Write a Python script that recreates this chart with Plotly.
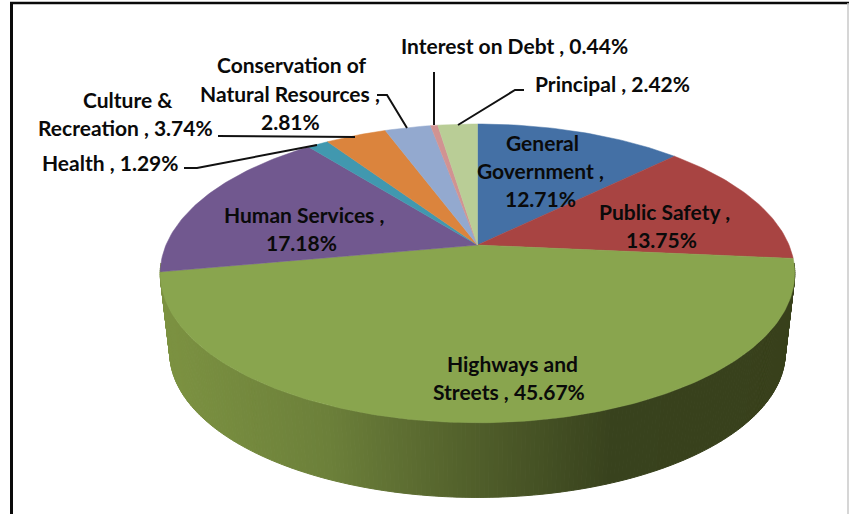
import numpy as np
import plotly.graph_objects as go

# Spending shares, clockwise from twelve o'clock
categories = ["General Government", "Public Safety", "Highways and Streets", "Human Services", "Health",
              "Culture & Recreation", "Conservation of Natural Resources", "Interest on Debt", "Principal"]
shares = [12.71, 13.75, 45.67, 17.18, 1.29, 3.74, 2.81, 0.44, 2.42]
colors = ["#4470A5", "#A84442", "#89A54E", "#71588F", "#4198AF", "#DB843D", "#93A9CF", "#D19392", "#B9CD96"]

# Wrapped label text, {} takes the share
label_templates = ["General|Government ,|{}%", "Public Safety ,|{}%", "Highways and|Streets , {}%",
                   "Human Services ,|{}%", "Health , {}%", "Culture &|Recreation , {}%",
                   "Conservation of|Natural Resources ,|{}%", "Interest on Debt , {}%", "Principal , {}%"]
label_xy = [[(542, 142), (540, 170), (540, 198)], [(664, 211), (661, 239)], [(512, 363), (509, 391)],
            [(304, 214), (301, 242)], [(110, 162)], [(128, 99), (125, 127)],
            [(292, 64), (290, 93), (290, 121)], [(514, 45)], [(612, 83)]]
leaders = [[(377, 95), (387, 95), (407, 128)], [(218, 136), (355, 137)],
           [(184, 168), (197, 168), (317, 145)], [(434, 72), (434, 125)],
           [(524, 90), (515, 90), (458, 125)]]

# Perspective model of the disc
CX, CY, RX, RY, PERSP = 477.5, 245.0, 311.5, 144.0, 0.19
RIM_SCALE, RIM_DROP = 0.97, 80.0


def project(t, scale=1.0, drop=0.0, radius=1.0):
    dx, dy = radius * np.sin(t), -radius * np.cos(t)
    w = 1 - PERSP * dy
    return CX + scale * RX * dx / w, CY + drop + scale * RY * dy / w


def side_shade(x):
    return [int(round(np.interp(x, [170, 330, 477, 610, 790], ch)))
            for ch in ([124, 108, 80, 56, 56], [146, 128, 94, 66, 64], [65, 58, 42, 29, 27])]


fig = go.Figure()

# Curved wall below the Highways slice, shaded left to right
wall = np.radians(np.linspace(97, 263, 240))
for a, b in zip(wall[:-1], wall[1:]):
    xt0, yt0 = project(a)
    xt1, yt1 = project(b)
    xb0, yb0 = project(a, RIM_SCALE, RIM_DROP)
    xb1, yb1 = project(b, RIM_SCALE, RIM_DROP)
    r, g, bl = side_shade((xb0 + xb1) / 2)
    col = f"rgb({r},{g},{bl})"
    fig.add_trace(go.Scatter(x=[xt0, xt1, xb1, xb0, xt0], y=[yt0, yt1, yb1, yb0, yt0], mode="lines",
                             fill="toself", fillcolor=col, line=dict(color=col, width=1),
                             hoverinfo="skip", showlegend=False))

# Top face wedges
edges = np.cumsum([0] + shares) / sum(shares) * 2 * np.pi
for name, col, t0, t1 in zip(categories, colors, edges[:-1], edges[1:]):
    arc = np.linspace(t0, t1, max(3, int((t1 - t0) * 60)))
    xa, ya = project(arc)
    fig.add_trace(go.Scatter(x=[CX, *xa, CX], y=[CY, *ya, CY], mode="lines", fill="toself", fillcolor=col,
                             line=dict(color=col, width=0.5), name=name, showlegend=False))

for pts in leaders:
    fig.add_trace(go.Scatter(x=[p[0] for p in pts], y=[p[1] for p in pts], mode="lines",
                             line=dict(color="#111111", width=2), hoverinfo="skip", showlegend=False))

for tpl, val, spots in zip(label_templates, shares, label_xy):
    for line, (lx, ly) in zip(tpl.format(f"{val:.2f}").split("|"), spots):
        fig.add_annotation(x=lx, y=ly, text=line, showarrow=False, xanchor="center", yanchor="middle",
                           font=dict(family="Lato", size=21, color="#0a0a0a", weight="bold"))

# Outer frame of the slide object
frame = [(11.5, 2, 11.5, 514, "#0a0a0a", 3), (10, 3, 849, 3, "#0a0a0a", 2.5), (848, 3, 848, 514, "#c8c8c8", 1.5)]
for x0, y0, x1, y1, col, w in frame:
    fig.add_shape(type="line", x0=x0, y0=y0, x1=x1, y1=y1, line=dict(color=col, width=w))

fig.update_layout(width=849, height=514, margin=dict(l=0, r=0, t=0, b=0), paper_bgcolor="white",
                  plot_bgcolor="white", showlegend=False,
                  xaxis=dict(range=[0, 849], visible=False, fixedrange=True),
                  yaxis=dict(range=[514, 0], visible=False, fixedrange=True))
fig.write_html("out.html", config=dict(displayModeBar=False))
